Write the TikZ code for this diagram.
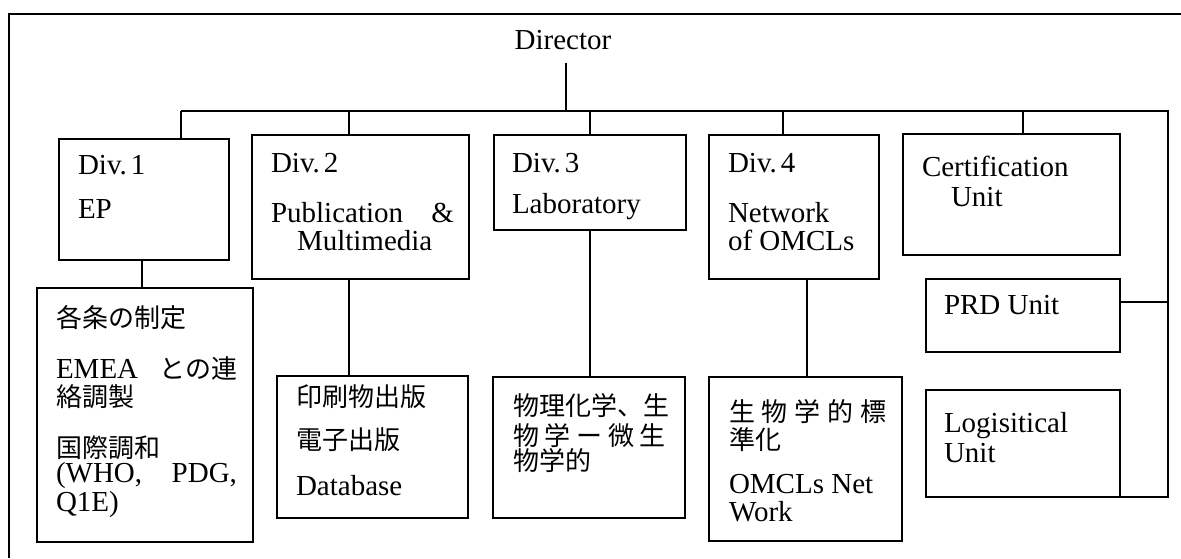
\documentclass[tikz,border=0pt]{standalone}
\usepackage{fontspec}
\setmainfont{Liberation Serif}
\newfontfamily\cjk{Noto Sans CJK JP}
\begin{document}
\begin{tikzpicture}[x=0.5pt,y=-0.5pt,line width=1pt,
  box/.style={draw,rectangle,inner sep=0pt,outer sep=0pt,anchor=north west},
  lat/.style={anchor=base west,inner sep=0pt,font=\fontsize{14.5pt}{14.5pt}\selectfont},
  jp/.style={anchor=base west,inner sep=0pt,font=\fontsize{13pt}{13pt}\cjk}]
\useasboundingbox[fill=white] (0,0) rectangle (1181,558);
% outer frame (cut by the image edge on the right and bottom)
\draw (1181,14) -- (9,14) -- (9,558);
% boxes
\node[box,minimum width=85pt,minimum height=60.5pt] (d1) at (59,139) {};
\node[box,minimum width=108.5pt,minimum height=72pt] (d2) at (252,135) {};
\node[box,minimum width=96pt,minimum height=47.5pt] (d3) at (494,135) {};
\node[box,minimum width=85pt,minimum height=72pt] (d4) at (709,135) {};
\node[box,minimum width=108.5pt,minimum height=60.5pt] (cert) at (903,134) {};
\node[box,minimum width=97pt,minimum height=36.5pt] (prd) at (926,279) {};
\node[box,minimum width=97pt,minimum height=53.5pt] (lg) at (926,390) {};
\node[box,minimum width=108pt,minimum height=127pt] (s1) at (37,288) {};
\node[box,minimum width=95.5pt,minimum height=71pt] (s2) at (277,376) {};
\node[box,minimum width=96pt,minimum height=70.5pt] (s3) at (493,377) {};
\node[box,minimum width=96.5pt,minimum height=82pt] (s4) at (709,377) {};
% texts
\node[lat,anchor=base] (dir) at (563,49) {Director};
\node[lat] (d1a) at (77,174) {Div.\hspace{2pt}1};
\node[lat] (d1b) at (77,218) {EP};
\node[lat] (d2a) at (270,172) {Div.\hspace{2pt}2};
\node[lat] (d2b) at (270,222) {\makebox[91.5pt][l]{Publication\hfill\&}};
\node[lat] (d2c) at (296,250) {Multimedia};
\node[lat] (d3a) at (511,172) {Div.\hspace{2pt}3};
\node[lat] (d3b) at (511,213) {Laboratory};
\node[lat] (d4a) at (727,172) {Div.\hspace{2pt}4};
\node[lat] (d4b) at (727,222) {Network};
\node[lat] (d4c) at (727,250) {of OMCLs};
\node[lat] (ca) at (921,176) {Certification};
\node[lat] (cb) at (950,206) {Unit};
\node[lat] (pa) at (943,314) {PRD Unit};
\node[lat] (la) at (943,432) {Logisitical};
\node[lat] (lb) at (943,462) {Unit};
\node[jp] (s1a) at (55,327) {各条の制定};
\node[lat] (s1b) at (55,378) {\makebox[90.5pt][l]{EMEA\hfill{\fontsize{13pt}{13pt}\cjk との連}}};
\node[jp] (s1c) at (55,406) {絡調製};
\node[jp] (s1d) at (55,457) {国際調和};
\node[lat] (s1e) at (55,482) {\makebox[90.5pt][l]{(WHO,\hfill PDG,}};
\node[lat] (s1f) at (55,511) {Q1E)};
\node[jp] (s2a) at (295,406) {印刷物出版};
\node[jp] (s2b) at (295,449) {電子出版};
\node[lat] (s2c) at (295,495) {Database};
\node[jp] (s3a) at (512,415) {物理化学、生};
\node[jp] (s3b) at (512,445) {\makebox[76.5pt][l]{物\hfill 学\hfill ー\hfill 微\hfill 生}};
\node[jp] (s3c) at (512,470) {物学的};
\node[jp] (s4a) at (728,421) {\makebox[78.5pt][l]{生\hfill 物\hfill 学\hfill 的\hfill 標}};
\node[jp] (s4b) at (728,449) {準化};
\node[lat] (s4c) at (728,493) {OMCLs Net};
\node[lat] (s4d) at (728,521) {Work};
% bus coordinates
\coordinate (bd) at (566,111);
\coordinate (b1) at (181,111);
\coordinate (b2) at (349,111);
\coordinate (b3) at (590,111);
\coordinate (b4) at (783,111);
\coordinate (b5) at (1023,111);
\coordinate (br) at (1168,111);
% connectors
\draw (bd) -- ([yshift=-6.5pt]dir.south -| bd);
\draw (b1) -- (br) -- (br |- lg.south) -- (lg.south east);
\draw (b1) -- (b1 |- d1.north);
\draw (b2) -- (b2 |- d2.north);
\draw (b3) -- (b3 |- d3.north);
\draw (b4) -- (b4 |- d4.north);
\draw (b5) -- (b5 |- cert.north);
\draw ([yshift=6.75pt]prd.east) -- ([yshift=6.75pt]prd.east -| br);
\draw ([xshift=-1pt]d1.south) -- ([xshift=-1pt]d1.south |- s1.north);
\draw ([xshift=-5.75pt]d2.south) -- ([xshift=-5.75pt]d2.south |- s2.north);
\draw (d3.south) -- (d3.south |- s3.north);
\draw ([xshift=6.5pt]d4.south) -- ([xshift=6.5pt]d4.south |- s4.north);
\end{tikzpicture}
\end{document}
